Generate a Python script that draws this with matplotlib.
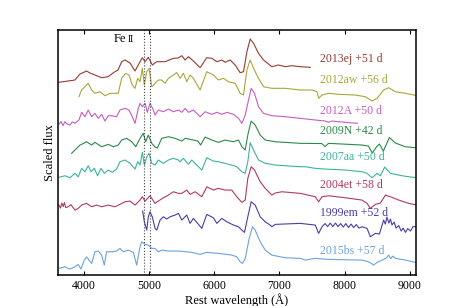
import matplotlib
matplotlib.use('Agg')
import matplotlib.pyplot as plt

plt.rcParams['font.family'] = ['Liberation Serif', 'DejaVu Serif']

# spectra: wavelength (A) and scaled flux (offset included)
w_13ej = [3616, 3862, 3939, 4041, 4092, 4169, 4272, 4369, 4476, 4523, 4579, 4630, 4707, 4784, 4861, 4896,
          4938, 4988, 5050, 5117, 5245, 5373, 5445, 5502, 5553, 5604, 5680, 5783, 5885, 5962, 6040, 6116,
          6167, 6244, 6321, 6398, 6449, 6501, 6552, 6603, 6679, 6756, 6884, 6986, 7089, 7192, 7320, 7474]
f_13ej = [192.7, 195, 201, 204, 202, 200, 197.3, 198.3, 203.3, 205, 213.3, 215, 212, 204, 213.3, 217.3,
          213.3, 217.7, 210, 213.3, 213.3, 216.7, 217, 219.3, 215, 218.3, 214, 207.3, 217.3, 216.7, 213.3, 215,
          212.7, 215, 210, 202.3, 203.3, 223.3, 236, 231.7, 221.7, 215, 208.3, 210, 208.3, 209.3, 208.3, 207.7]

w_12aw = [3923, 3965, 4066, 4118, 4169, 4246, 4323, 4400, 4476, 4527, 4579, 4640, 4692, 4742, 4784, 4825,
          4861, 4896, 4927, 4964, 4999, 5041, 5091, 5142, 5193, 5245, 5296, 5373, 5424, 5476, 5527, 5578,
          5629, 5680, 5783, 5885, 5987, 6064, 6141, 6218, 6321, 6398, 6449, 6501, 6552, 6603, 6679, 6756,
          6884, 7089, 7320, 7500, 7577, 7602, 7654, 7756, 7910, 8165, 8319, 8422, 8499, 8600, 8677, 8780,
          8934, 9113]
f_12aw = [178.3, 185, 191.7, 185, 181.7, 183.3, 179.3, 181.7, 181.7, 181.7, 196.7, 201.7, 200, 190, 186.7, 196.7,
          193.3, 206.7, 190, 203.3, 206.7, 188.3, 191.7, 195, 195, 191.7, 196.7, 200, 202.5, 196.7, 201.7, 193.3,
          200, 196.7, 185, 203.3, 200, 195, 196.7, 193.3, 191.7, 181.7, 180, 205, 215, 206.7, 196.7, 188.3,
          186.7, 186.7, 185, 185, 183.3, 176.7, 180, 181.7, 180.7, 180, 178.3, 174, 176.7, 185, 187.3, 183.3,
          181.7, 179.3]

w_12A = [3616, 3650, 3680, 3708, 3740, 3785, 3820, 3862, 3923, 3965, 4015, 4066, 4118, 4169, 4220, 4272,
         4323, 4374, 4424, 4501, 4553, 4630, 4692, 4742, 4784, 4835, 4861, 4896, 4938, 4973, 5014, 5065,
         5091, 5142, 5219, 5296, 5373, 5450, 5502, 5553, 5604, 5680, 5783, 5860, 5962, 6040, 6116, 6193,
         6295, 6372, 6424, 6475, 6526, 6567, 6618, 6679, 6756, 6884, 7089, 7320, 7551, 7705, 7755, 7807,
         8012, 8196]
f_12A = [150.7, 153.5, 149.5, 153.3, 151, 150, 153, 151.7, 155, 162.7, 158.3, 165, 158.3, 161.7, 156.7, 160.7,
         154, 159.3, 159.3, 158.3, 165, 166.7, 165, 158.3, 151.7, 166.7, 171.7, 168.3, 171.7, 162.7, 171.7, 165,
         160, 165, 163.3, 166, 163.3, 165, 162.7, 166.7, 162.7, 165, 158.3, 163.3, 160.7, 162.7, 160.7, 162.7,
         160.7, 156.7, 151.7, 160, 175, 186.7, 181.7, 168.3, 161.7, 159.3, 158.3, 156.7, 155, 154, 152.7, 154,
         152.7, 151.7]

w_09N = [3811, 3862, 3939, 3965, 4041, 4118, 4169, 4272, 4374, 4450, 4527, 4579, 4656, 4733, 4795, 4861,
         4911, 4948, 4988, 5041, 5091, 5127, 5193, 5296, 5399, 5502, 5553, 5680, 5750, 5790, 5860, 5962,
         6064, 6167, 6295, 6372, 6424, 6475, 6515, 6566, 6628, 6705, 6782, 6936, 7320, 7650, 7700, 7755,
         8268, 8365, 8426, 8488, 8534, 8596, 8688, 8780, 8934, 9088]
f_09N = [121.7, 125, 130, 130.7, 133.3, 130, 132.7, 128.3, 130.7, 128.3, 130, 135, 136.7, 133.3, 128.3, 136.7,
         141.7, 133.3, 140, 131.7, 128, 127, 136.7, 138.3, 136.7, 134, 136.7, 135, 134, 130, 138, 135,
         132.7, 135, 133.3, 135, 128.3, 125, 140, 154, 150, 140, 135, 133.3, 131.7, 131.5, 128.5, 131.7,
         130, 129, 122, 128, 131, 124, 137.5, 132, 128.3, 127.3]

w_07aa = [3616, 3708, 3785, 3862, 3912, 3965, 4015, 4066, 4108, 4159, 4209, 4261, 4312, 4374, 4435, 4501,
          4553, 4630, 4707, 4784, 4825, 4861, 4896, 4927, 4964, 4999, 5041, 5091, 5142, 5219, 5296, 5373,
          5450, 5476, 5527, 5604, 5655, 5809, 5885, 5987, 6064, 6167, 6269, 6346, 6424, 6475, 6515, 6552,
          6603, 6679, 6782, 6936, 7320, 7397, 7551, 7705, 8012, 8268, 8345, 8422, 8499, 8550, 8616, 8704,
          8883, 8985, 9114]
f_07aa = [97.7, 99.3, 97.3, 101.7, 98.3, 106.7, 103.3, 109.3, 103.3, 106.7, 99.3, 106.7, 101.7, 105, 102.7, 106,
          113.3, 115, 111.7, 106, 113.3, 110, 122.7, 110, 118.3, 121.7, 111.7, 110, 115, 111.7, 115, 116.7,
          115, 113.3, 116.7, 110.7, 115, 105, 117.3, 114, 113.3, 111.7, 110, 108.3, 103.3, 101.7, 113.3, 132.3,
          125, 115, 111.7, 110, 108.3, 108.3, 106.7, 106, 105, 103.3, 101.7, 97.3, 101.7, 99.3, 108, 101.7,
          99.3, 98.3, 97.3]

w_04et = [3616, 3640, 3660, 3682, 3700, 3720, 3759, 3800, 3862, 3912, 3965, 4041, 4118, 4194, 4272, 4374,
          4476, 4553, 4630, 4707, 4784, 4861, 4896, 4938, 5014, 5091, 5142, 5219, 5296, 5373, 5450, 5502,
          5578, 5629, 5706, 5809, 5885, 5987, 6064, 6167, 6269, 6346, 6424, 6475, 6515, 6567, 6618, 6705,
          6782, 6859, 6884, 6936, 7038, 7320, 7551, 7602, 7654, 7756, 8012, 8268, 8345, 8396, 8473, 8550,
          8627, 8704, 8831, 8985, 9114]
f_04et = [70, 67, 72, 68.5, 72.5, 67.5, 68.3, 70.5, 65, 66.7, 70, 71.7, 68.3, 70, 68.3, 70,
          68.3, 70.7, 73.3, 74, 70, 75, 78.3, 74, 79.3, 71.7, 74, 77.3, 80, 83.3, 81.7, 81.7,
          85, 80.7, 83.3, 78.3, 88.3, 85, 86.7, 85, 85, 78.3, 72.7, 75, 96.7, 108.3, 105, 93.3,
          86.7, 81.7, 80, 82, 83.3, 81.7, 78.3, 73.3, 78.3, 79.3, 77.3, 75, 71.7, 66.7, 70.7, 72,
          80, 78.3, 75, 71.7, 70]

w_99em = [4901, 4927, 4964, 4988, 5014, 5050, 5091, 5117, 5168, 5219, 5270, 5322, 5399, 5450, 5502, 5578,
          5629, 5680, 5809, 5885, 5987, 6040, 6116, 6193, 6295, 6372, 6424, 6464, 6515, 6567, 6628, 6705,
          6782, 6859, 6884, 6936, 7320, 7551, 7602, 7654, 7700, 7740, 7780, 7820, 7860, 7900, 7940, 7980,
          8020, 8060, 8100, 8140, 8180, 8220, 8268, 8345, 8396, 8473, 8534, 8600, 8625, 8651, 8680, 8705,
          8728, 8760, 8790, 8831, 8870, 8900, 8934, 8970, 9012, 9050, 9114]
f_99em = [64, 53.3, 45, 58.3, 63.3, 58, 46.7, 45, 55, 58.3, 56, 58.3, 60, 61.7, 55, 60,
          51.7, 56.7, 46.7, 60.7, 57.3, 51.7, 56.7, 53.3, 50, 48.3, 45, 42.7, 58.3, 73.3, 70, 58.3,
          53.3, 50, 48.3, 50.7, 51.7, 50, 41.7, 48.3, 51.5, 48.5, 52, 48.5, 52, 48.5, 51.5, 48,
          51.5, 47.5, 51, 47.5, 50.5, 47, 48.3, 46.7, 38.3, 41.7, 41, 55, 51, 58, 52, 56,
          50, 53, 47, 49.5, 44, 47, 42.7, 46.5, 44, 48.5, 48.3]

w_15bs = [3616, 3708, 3785, 3862, 3912, 3954, 4005, 4041, 4077, 4118, 4169, 4220, 4272, 4312, 4347, 4424,
          4501, 4553, 4604, 4681, 4758, 4809, 4861, 4886, 4938, 4988, 5041, 5091, 5142, 5193, 5296, 5476,
          5655, 5783, 5885, 6064, 6269, 6346, 6398, 6434, 6475, 6537, 6587, 6628, 6705, 6782, 6884, 7089,
          7320, 7397, 7551, 7756, 8268, 8370, 8447, 8499, 8576, 8640, 8677, 8710, 8740, 8780, 8934, 9088]
f_15bs = [6.7, 8.3, 6, 8.3, 10.7, 6, 15, 18.3, 15, 11.7, 23.3, 24, 20, 10, 23.3, 23.3,
          24, 26.7, 23.3, 25, 22.7, 10, 28.3, 33.3, 30.7, 30, 26.7, 26.7, 23.3, 25, 24, 24,
          22.7, 20.7, 22.7, 21.7, 20, 18.3, 13.3, 11.7, 16.7, 36.7, 48.3, 45, 33.3, 25, 20, 17.3,
          16.7, 15, 16.7, 15.7, 15, 13.3, 10, 12.7, 15, 17, 20, 16.5, 19, 16.7, 15, 12.7]

names = ['2013ej +51 d', '2012aw +56 d', '2012A +50 d', '2009N +42 d',
         '2007aa +50 d', '2004et +58 d', '1999em +52 d', '2015bs +57 d']
waves = [w_13ej, w_12aw, w_12A, w_09N, w_07aa, w_04et, w_99em, w_15bs]
fluxes = [f_13ej, f_12aw, f_12A, f_09N, f_07aa, f_04et, f_99em, f_15bs]
label_y = [216, 195, 164.3, 144, 118.3, 90, 62.3, 24.3]
colors = ['#983a32', '#a8a838', '#c85cbf', '#2a8a4a', '#3cb49b', '#b5385f', '#4b3ca8', '#6ba3dc']
feII = [4924, 5018]

fig = plt.figure(figsize=(4.63, 3.06), dpi=100)
ax = fig.add_axes([0.125, 0.101, 0.774, 0.801])

for w, f, c, n, ly in zip(waves, fluxes, colors, names, label_y):
    ax.plot(w, f, color=c, lw=0.8)
    ax.text(7617, ly, n, color=c, fontsize=8.5, va='center', ha='left')

for x in feII:
    ax.axvline(x, color='#444444', ls=':', lw=0.8)
ax.text(4640, 233, 'Fe', fontsize=9, ha='right', va='baseline')
ax.text(4670, 233, 'II', fontsize=7, ha='left', va='baseline')

ax.set_xlim(3600, 9100)
ax.set_ylim(0, 245)
ax.set_yticks([])
ax.set_xticks([4000, 5000, 6000, 7000, 8000, 9000])
ax.tick_params(axis='x', direction='in', top=True, labelsize=8.5, length=3)
for s in ax.spines.values():
    s.set_linewidth(1.1)
ax.set_xlabel('Rest wavelength (Å)', fontsize=9, labelpad=1)
ax.set_ylabel('Scaled flux', fontsize=9, labelpad=1)

fig.savefig('out.png', dpi=100)
